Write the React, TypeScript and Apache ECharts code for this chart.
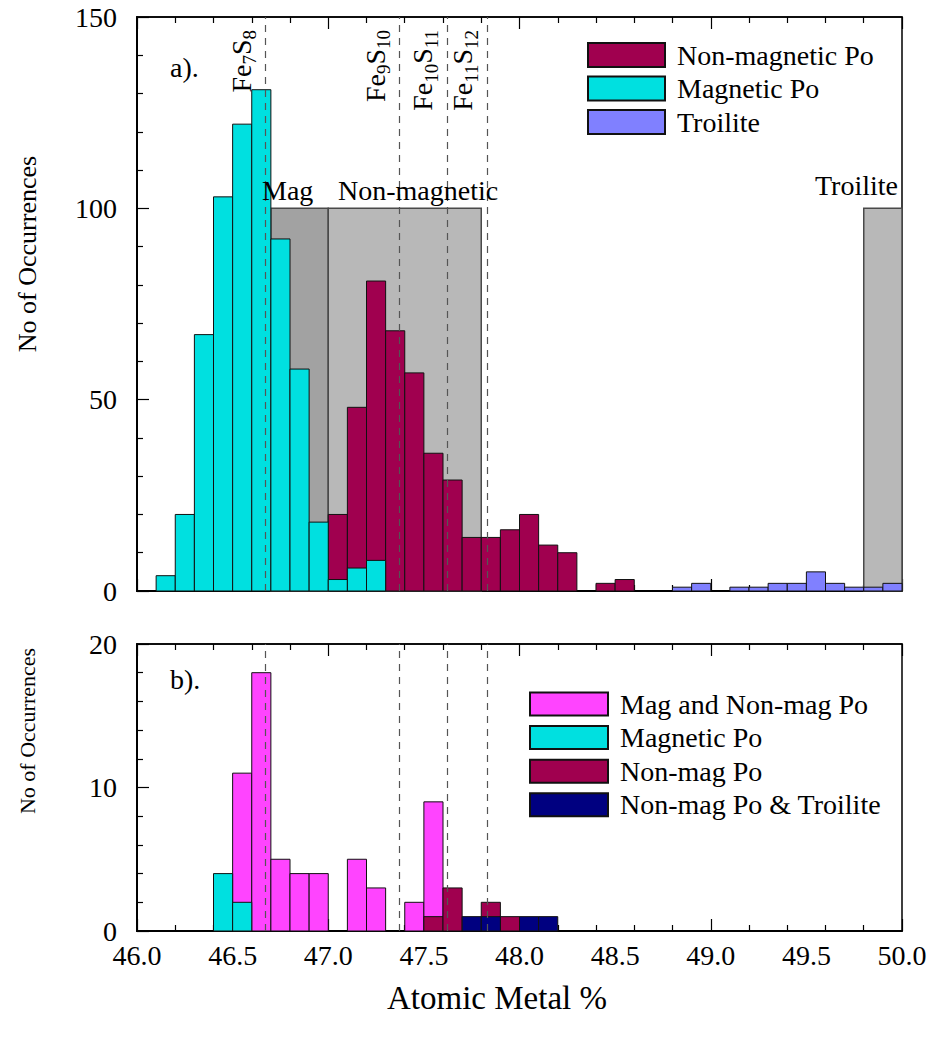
import React, { useEffect, useRef } from 'react';
import * as echarts from 'echarts';

const FONT = 'Liberation Serif, Times New Roman, serif';
const BIN_WIDTH = 0.1;

// ---- Panel a) histogram counts (bin start, count) ----
const magBinsA = [46.1, 46.2, 46.3, 46.4, 46.5, 46.6, 46.7, 46.8, 46.9, 47.0, 47.1, 47.2];
const magCountsA = [4, 20, 67, 103, 122, 131, 92, 58, 18, 3, 6, 8];
const nonMagBinsA = [47.0, 47.1, 47.2, 47.3, 47.4, 47.5, 47.6, 47.7, 47.8, 47.9, 48.0, 48.1, 48.2, 48.4, 48.5];
const nonMagCountsA = [20, 48, 81, 68, 57, 36, 29, 14, 14, 16, 20, 12, 10, 2, 3];
const troiliteBinsA = [48.8, 48.9, 49.1, 49.2, 49.3, 49.4, 49.5, 49.6, 49.7, 49.8, 49.9];
const troiliteCountsA = [1, 2, 1, 1, 2, 2, 5, 2, 1, 1, 2];

// ---- Panel b) ----
const mixBinsB = [46.5, 46.6, 46.7, 46.8, 46.9, 47.1, 47.2, 47.4, 47.5];
const mixCountsB = [11, 18, 5, 4, 4, 5, 3, 2, 9];
const magBinsB = [46.4, 46.5];
const magCountsB = [4, 2];
const nonMagBinsB = [47.5, 47.6, 47.8, 47.9];
const nonMagCountsB = [1, 3, 2, 1];
const nonMagTroBinsB = [47.7, 47.8, 48.0, 48.1];
const nonMagTroCountsB = [1, 1, 1, 1];

// ---- Compositional ranges (shaded) ----
const rangeNames = ['Mag', 'Non-magnetic', 'Troilite'];
const rangeStarts = [46.7, 47.0, 49.8];
const rangeEnds = [47.0, 47.8, 50.0];
const rangeHeights = [100, 100, 100];

// ---- Stoichiometric phases (dashed lines) ----
const phaseValues = [46.67, 47.37, 47.62, 47.83];
// pieces alternate: element symbol, subscript, element symbol, subscript
const phaseLabels = [
  ['Fe', '7', 'S', '8'],
  ['Fe', '9', 'S', '10'],
  ['Fe', '10', 'S', '11'],
  ['Fe', '11', 'S', '12'],
];

// ---- Axis ranges ----
const xMin = 46.0;
const xMax = 50.0;
const yMaxA = 150;
const yMaxB = 20;

const COLORS = {
  mag: '#00E0E0',
  nonMag: '#A0004F',
  troilite: '#8080FF',
  mix: '#FF44FF',
  navy: '#000080',
};
const RANGE_FILL: Record<string, string> = { Mag: '#A2A2A2', 'Non-magnetic': '#B8B8B8', Troilite: '#B8B8B8' };

function histSeries(name: string, bins: number[], counts: number[], color: string, axis: number) {
  return {
    type: 'custom',
    name,
    xAxisIndex: axis === 0 ? 0 : 2,
    yAxisIndex: axis,
    data: bins.map((b, i) => [b, counts[i]]),
    encode: { x: 0, y: 1 },
    itemStyle: { color, borderColor: '#111', borderWidth: 1 },
    renderItem: (_p: any, api: any) => {
      const x0 = api.value(0) as number;
      const h = api.value(1) as number;
      const a = api.coord([x0, h]);
      const b = api.coord([x0 + BIN_WIDTH, 0]);
      return {
        type: 'rect',
        shape: { x: a[0], y: a[1], width: b[0] - a[0], height: b[1] - a[1] },
        style: { fill: color, stroke: '#111', lineWidth: 1 },
      };
    },
  };
}

function xTickAxis(grid: number, position: 'top' | 'bottom', lineWidth: number) {
  return {
    type: 'value',
    gridIndex: grid,
    position,
    min: xMin,
    max: xMax,
    interval: 1,
    axisLine: { show: true, onZero: false, lineStyle: { color: '#000', width: lineWidth } },
    axisTick: { show: true, inside: true, length: 12, lineStyle: { color: '#000', width: 1.2 } },
    minorTick: { show: true, splitNumber: 5, length: 6, lineStyle: { color: '#000', width: 1.2 } },
    axisLabel: { show: false },
    splitLine: { show: false },
  };
}

function yAxisCfg(grid: number, max: number, interval: number) {
  return {
    type: 'value',
    gridIndex: grid,
    min: 0,
    max,
    interval,
    axisLine: { show: true, lineStyle: { color: '#000', width: 2 } },
    axisTick: { show: true, inside: true, length: 12, lineStyle: { color: '#000', width: 1.2 } },
    minorTick: { show: true, splitNumber: 5, length: 6, lineStyle: { color: '#000', width: 1.2 } },
    axisLabel: { show: true, fontSize: 28, fontFamily: FONT, color: '#000', margin: 20 },
    splitLine: { show: false },
  };
}

function phaseSeries(axis: number) {
  return {
    type: 'line',
    name: 'phases' + axis,
    xAxisIndex: axis === 0 ? 0 : 2,
    yAxisIndex: axis,
    data: [],
    z: 10,
    silent: true,
    markLine: {
      silent: true,
      symbol: ['none', 'none'],
      animation: false,
      lineStyle: { color: '#555', type: [7, 6], width: 1.2 },
      label: { show: false },
      data: phaseValues.map((v) => ({ xAxis: v })),
    },
  };
}

const rangeSeries = {
  type: 'custom',
  name: 'ranges',
  xAxisIndex: 0,
  yAxisIndex: 0,
  z: 1,
  silent: true,
  data: rangeNames.map((n, i) => [rangeStarts[i], rangeEnds[i], rangeHeights[i]]),
  encode: { x: [0, 1], y: 2 },
  renderItem: (p: any, api: any) => {
    const a = api.coord([api.value(0), api.value(2)]);
    const b = api.coord([api.value(1), 0]);
    return {
      type: 'rect',
      shape: { x: a[0], y: a[1], width: b[0] - a[0], height: b[1] - a[1] },
      style: { fill: RANGE_FILL[rangeNames[p.dataIndex]], stroke: '#4a4a4a', lineWidth: 1.5 },
    };
  },
};

function txt(text: string, x: number, y: number, fontSize: number, align = 'left', rotation = 0, vAlign = 'middle') {
  return {
    type: 'text',
    x,
    y,
    rotation,
    z: 20,
    style: { text, fontSize, fontFamily: FONT, fill: '#000', align, verticalAlign: vAlign },
  };
}

const legendText = { fontSize: 28, fontFamily: FONT, color: '#000', lineHeight: 24, padding: [0, 0, 0, 7] };

const MAIN_SIZE = 28;
const SUB_SIZE = 19;

function measure(ctx: CanvasRenderingContext2D | null, text: string, size: number) {
  if (!ctx) return text.length * size * 0.5;
  ctx.font = `${size}px ${FONT}`;
  return ctx.measureText(text).width;
}

export default function App() {
  const ref = useRef<HTMLDivElement>(null);
  useEffect(() => {
    if (!ref.current) return;
    const chart = echarts.init(ref.current, undefined, { renderer: 'svg' });
    chart.setOption({
      animation: false,
      backgroundColor: '#fff',
      grid: [
        { left: 137, top: 17, width: 765, height: 574, show: true, borderColor: '#000', borderWidth: 1.5, backgroundColor: 'transparent' },
        { left: 137, top: 644, width: 765, height: 287, show: true, borderColor: '#000', borderWidth: 1.5, backgroundColor: 'transparent' },
      ],
      xAxis: [
        xTickAxis(0, 'bottom', 2),
        xTickAxis(0, 'top', 1.5),
        xTickAxis(1, 'bottom', 2),
        xTickAxis(1, 'top', 1.5),
        {
          type: 'value',
          gridIndex: 1,
          position: 'bottom',
          min: xMin,
          max: xMax,
          interval: 0.5,
          axisLine: { show: false },
          axisTick: { show: false },
          splitLine: { show: false },
          axisLabel: {
            show: true,
            fontSize: 28,
            fontFamily: FONT,
            color: '#000',
            margin: 10,
            formatter: (v: number) => v.toFixed(1),
          },
        },
      ],
      yAxis: [yAxisCfg(0, yMaxA, 50), yAxisCfg(1, yMaxB, 10)],
      legend: [
        {
          data: ['Non-magnetic Po', 'Magnetic Po', 'Troilite'],
          orient: 'vertical',
          left: 582,
          top: 36,
          itemWidth: 77,
          itemHeight: 24,
          itemGap: 5.5,
          icon: 'rect',
          selectedMode: false,
          textStyle: legendText,
        },
        {
          data: ['Mag and Non-mag Po', 'Magnetic Po', 'Non-mag Po', 'Non-mag Po & Troilite'],
          orient: 'vertical',
          left: 524,
          top: 685,
          itemWidth: 78,
          itemHeight: 23,
          itemGap: 5.6,
          icon: 'rect',
          selectedMode: false,
          textStyle: legendText,
        },
      ],
      series: [
        rangeSeries,
        histSeries('Non-magnetic Po', nonMagBinsA, nonMagCountsA, COLORS.nonMag, 0),
        histSeries('Magnetic Po', magBinsA, magCountsA, COLORS.mag, 0),
        histSeries('Troilite', troiliteBinsA, troiliteCountsA, COLORS.troilite, 0),
        phaseSeries(0),
        histSeries('Mag and Non-mag Po', mixBinsB, mixCountsB, COLORS.mix, 1),
        histSeries('Non-mag Po', nonMagBinsB, nonMagCountsB, COLORS.nonMag, 1),
        histSeries('Non-mag Po & Troilite', nonMagTroBinsB, nonMagTroCountsB, COLORS.navy, 1),
        histSeries('Magnetic Po', magBinsB, magCountsB, COLORS.mag, 1),
        phaseSeries(1),
      ],
    });

    const ctx = document.createElement('canvas').getContext('2d');
    const phaseTexts: any[] = [];
    phaseValues.forEach((v, i) => {
      const px = chart.convertToPixel({ xAxisIndex: 0 }, v) as number;
      const pieces = phaseLabels[i];
      const sizes = pieces.map((_, k) => (k % 2 === 0 ? MAIN_SIZE : SUB_SIZE));
      const widths = pieces.map((p, k) => measure(ctx, p, sizes[k]));
      const total = widths.reduce((a, b) => a + b, 0);
      const topEnd = 30;
      let y = topEnd + total;
      const x0 = px - 10;
      pieces.forEach((p, k) => {
        const isSub = k % 2 === 1;
        phaseTexts.push(txt(p, isSub ? x0 + 4 : x0, y, sizes[k], 'left', Math.PI / 2, 'bottom'));
        y -= widths[k];
      });
    });

    chart.setOption({
      graphic: [
        txt('a).', 170, 67, 28),
        txt('b).', 170, 679, 28),
        txt('Mag', 262, 190, 28),
        txt('Non-magnetic', 338, 190, 28),
        txt('Troilite', 898, 185, 28, 'right'),
        txt('Atomic Metal %', 497, 998, 33, 'center'),
        txt('No of Occurrences', 27, 254, 26, 'center', Math.PI / 2),
        txt('No of Occurrences', 27, 731, 22, 'center', Math.PI / 2),
        ...phaseTexts,
      ],
    });
    return () => chart.dispose();
  }, []);
  return <div ref={ref} style={{ position: 'absolute', left: 0, top: 0, width: 930, height: 1043 }} />;
}
